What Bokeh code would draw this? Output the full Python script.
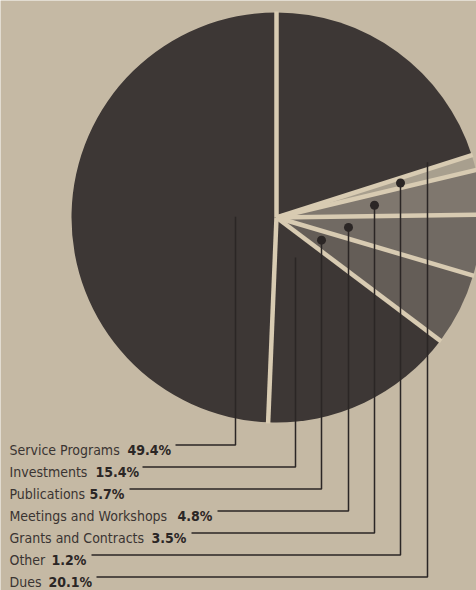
import math
from bokeh.plotting import figure
from bokeh.models import Range1d
from bokeh.core.properties import value
from bokeh.embed import file_html
from bokeh.resources import INLINE

# ---- data (clockwise from 12 o'clock) ----
categories = ["Dues", "Other", "Grants and Contracts", "Meetings and Workshops",
              "Publications", "Investments", "Service Programs"]
shares = [20.1, 1.2, 3.5, 4.8, 5.7, 15.4, 49.4]
pct_labels = ["20.1%", "1.2%", "3.5%", "4.8%", "5.7%", "15.4%", "49.4%"]
# legend rows, top to bottom
label_order = ["Service Programs", "Investments", "Publications",
               "Meetings and Workshops", "Grants and Contracts", "Other", "Dues"]

# ---- styles / layout ----
W, H = 476, 590
BG = "#c5b9a4"
GAP = "#d8cbb2"
INK = "#2b2625"
DARK = "#3d3735"
slice_colors = {"Dues": DARK, "Other": "#a89f8e", "Grants and Contracts": "#7f776e",
                "Meetings and Workshops": "#716a63", "Publications": "#645d57",
                "Investments": DARK, "Service Programs": DARK}
CXp, CYp, R = 276, 217, 205          # pie centre (pixels from top-left) and radius
leader_x = [235, 295, 321, 348, 374, 400, 427]      # per legend row
pct_start = [127, 95, 89, 177, 151, 51, 48]         # per legend row (left edge of % text)
line_start = [175, 142, 129, 217, 191, 91, 96]      # per legend row
ROW0, ROWSTEP = 444.5, 22.0
FONT = "DejaVu Sans Condensed"
FS = "14px"


def Y(py):
    return H - py


p = figure(width=W, height=H, output_backend="svg", toolbar_location=None,
           x_range=Range1d(0, W), y_range=Range1d(0, H), min_border=0)
p.axis.visible = False
p.grid.visible = False
p.outline_line_color = None
p.background_fill_color = BG
p.border_fill_color = BG

total = sum(shares)
starts, ends, mids = [], [], []
cum = 0.0
for s in shares:
    a0 = 90 - cum / total * 360
    cum += s
    a1 = 90 - cum / total * 360
    starts.append(math.radians(a0))
    ends.append(math.radians(a1))
    mids.append(math.radians((a0 + a1) / 2))

n = len(shares)
p.wedge(x=[CXp] * n, y=[Y(CYp)] * n, radius=R,
        start_angle=starts, end_angle=ends, direction="clock",
        fill_color=[slice_colors[c] for c in categories], line_color=None)
# light gaps between slices
p.segment(x0=[CXp] * n, y0=[Y(CYp)] * n,
          x1=[CXp + (R + 1) * math.cos(a) for a in starts],
          y1=[Y(CYp) + (R + 1) * math.sin(a) for a in starts],
          line_color=GAP, line_width=4.5)

# leaders
xs, ys, dot_x, dot_y = [], [], [], []
for i, name in enumerate(label_order):
    k = categories.index(name)
    lx = leader_x[i]
    ang = mids[k]
    dx = lx - CXp
    if name != "Service Programs" and (abs(dx * math.tan(ang)) > R * 0.8):
        ang = ends[k] + math.radians(2.4)
    dy = Y(CYp) + dx * math.tan(ang)
    row_y = Y(ROW0 + ROWSTEP * i)
    xs.append([lx, lx, line_start[i]])
    ys.append([dy, row_y, row_y])
    if slice_colors[name] != DARK:
        dot_x.append(lx)
        dot_y.append(dy)

p.multi_line(xs=xs, ys=ys, line_color=INK, line_width=1.5)
p.scatter(x=dot_x, y=dot_y, size=9, fill_color=INK, line_color=None)

rows_y = [Y(ROW0 + ROWSTEP * i + 4.5) for i in range(len(label_order))]
p.text(x=[9] * len(label_order), y=rows_y, text=label_order,
       text_font=value(FONT), text_font_size=FS, text_color="#3a3432",
       text_baseline="alphabetic", text_align="left")
p.text(x=pct_start, y=rows_y, text=[pct_labels[categories.index(n)] for n in label_order],
       text_font=value(FONT), text_font_size=FS, text_font_style="bold",
       text_color="#2b2625", text_baseline="alphabetic", text_align="left")

open("out.html", "w").write(file_html(p, INLINE))
